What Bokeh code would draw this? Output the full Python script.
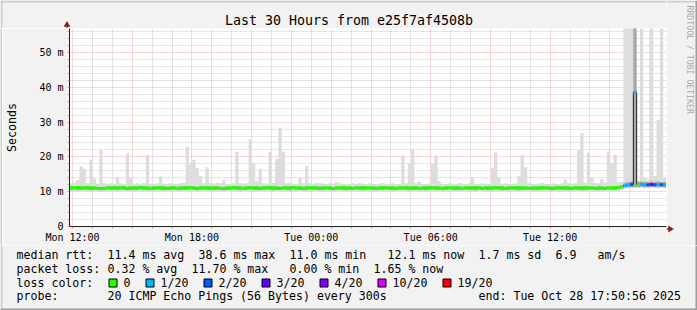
import math
from bokeh.plotting import figure
from bokeh.layouts import column, row
from bokeh.models import FixedTicker, Label, Range1d
from bokeh.embed import file_html
from bokeh.resources import INLINE

# ---------------- data ----------------
# time axis: hours since Mon 00:00; 30 hours ending Tue 17:50:56, 10-minute bins
T_START = 11 + 50 / 60 + 56 / 3600
T_END = T_START + 30
N_BINS = 180

x_tick_pos = [12, 18, 24, 30, 36]
x_tick_labels = ["Mon 12:00", "Mon 18:00", "Tue 00:00", "Tue 06:00", "Tue 12:00"]
y_tick_pos = [0, 10, 20, 30, 40, 50]
y_tick_labels = ["0", "10 m", "20 m", "30 m", "40 m", "50 m"]

median_ms = [
    11.2, 11.1, 11.2, 11.1, 11.1, 11.2, 11.1, 11.1, 11.0, 10.9, 11.0, 11.1, 11.1, 11.2, 11.1, 11.1, 11.2, 11.0, 11.1, 11.1,
    11.1, 11.2, 11.1, 11.1, 11.0, 11.1, 11.1, 11.2, 11.1, 11.0, 11.1, 11.1, 11.0, 11.1, 11.1, 11.2, 11.1, 11.1, 11.0, 11.1,
    11.1, 11.2, 11.1, 11.1, 11.1, 11.0, 10.9, 11.1, 11.1, 11.2, 11.1, 11.1, 11.0, 11.1, 11.2, 11.1, 11.1, 11.0, 11.1, 11.1,
    11.2, 11.1, 11.1, 11.0, 11.1, 11.1, 11.1, 11.2, 11.1, 11.1, 11.0, 11.1, 11.1, 11.2, 11.1, 11.0, 11.1, 11.1, 11.1, 10.9,
    11.1, 11.1, 11.2, 11.1, 11.1, 11.0, 11.1, 11.1, 11.2, 11.1, 11.1, 11.1, 11.0, 11.1, 11.2, 11.1, 11.1, 11.1, 11.0, 11.1,
    11.1, 11.2, 11.1, 11.1, 11.1, 11.0, 11.1, 11.1, 11.2, 11.1, 11.1, 11.1, 11.0, 11.1, 11.1, 11.2, 11.1, 11.1, 11.0, 11.1,
    11.1, 11.1, 11.2, 11.1, 11.0, 11.1, 11.1, 11.1, 11.2, 11.1, 11.1, 11.0, 11.1, 11.1, 11.1, 11.2, 11.1, 11.1, 11.0, 11.1,
    11.1, 11.1, 11.2, 11.1, 11.1, 11.0, 11.1, 11.1, 11.1, 11.2, 11.1, 11.0, 11.1, 11.1, 11.1, 11.2, 11.1, 11.1, 11.0, 11.1,
    11.1, 11.0, 11.1, 11.1, 11.2, 11.2, 11.4, 11.8, 11.9, 12.1, 38.6, 12.0, 12.1, 12.0, 12.0, 12.1, 12.0, 12.1, 12.0, 12.0,
]

smoke_max_ms = [
    12.4, 12.6, 13.3, 17.3, 16.6, 12.5, 19.2, 13.8, 12.3, 22.0, 12.6, 12.2, 12.4, 12.3, 14.3, 12.4, 12.2, 21.0, 13.8, 12.3,
    12.4, 12.2, 12.5, 20.6, 12.3, 12.2, 12.4, 14.4, 12.3, 12.2, 12.5, 12.3, 12.2, 12.4, 12.6, 22.9, 17.8, 19.2, 16.8, 14.5,
    12.4, 17.0, 12.5, 12.3, 12.6, 12.4, 13.3, 12.3, 12.2, 12.4, 21.4, 12.5, 12.3, 12.4, 25.0, 18.3, 13.0, 16.6, 12.4, 12.3,
    21.5, 12.6, 19.4, 28.4, 21.5, 12.4, 12.6, 12.3, 12.2, 14.2, 12.4, 17.4, 12.5, 12.3, 12.6, 12.4, 12.3, 12.2, 12.5, 12.3,
    12.8, 12.4, 12.3, 12.2, 12.3, 12.4, 12.2, 12.6, 12.3, 12.2, 12.4, 12.3, 12.2, 12.3, 12.5, 12.2, 12.3, 12.4, 12.2, 12.3,
    20.4, 12.4, 18.1, 22.2, 12.5, 12.9, 12.3, 12.2, 12.4, 18.0, 20.4, 13.0, 12.3, 12.2, 12.4, 12.3, 12.2, 12.5, 12.3, 12.2,
    12.4, 14.2, 12.3, 12.2, 12.4, 12.3, 12.2, 16.9, 21.3, 14.0, 12.3, 12.4, 12.2, 12.3, 12.4, 14.5, 20.6, 17.0, 12.6, 12.3,
    12.2, 12.4, 12.5, 12.3, 12.2, 12.4, 12.3, 12.2, 12.4, 13.5, 12.4, 12.3, 12.4, 21.9, 26.9, 12.6, 21.3, 14.0, 12.5, 12.4,
    13.6, 12.6, 21.6, 18.3, 20.7, 12.7, 12.8, 60.0, 60.0, 60.0, 60.0, 13.2, 60.0, 14.0, 13.5, 60.0, 14.5, 30.6, 60.0, 14.0,
]

smoke_min_ms = [
    10.1, 10.2, 10.0, 10.1, 10.2, 10.1, 10.0, 10.2, 10.1, 10.0, 10.1, 10.2, 10.1, 10.1, 10.0, 10.2, 10.1, 10.1, 10.2, 10.0,
    10.1, 10.2, 10.1, 10.0, 10.1, 10.2, 10.1, 10.1, 10.0, 10.2, 10.1, 10.1, 10.2, 10.0, 10.1, 10.1, 10.2, 10.1, 10.0, 10.1,
    10.2, 10.1, 10.0, 10.1, 10.2, 10.1, 10.0, 10.1, 10.2, 10.1, 10.1, 10.0, 10.2, 10.1, 10.1, 10.0, 10.2, 10.1, 10.1, 10.2,
    10.1, 10.0, 10.1, 10.2, 10.1, 10.1, 10.0, 10.2, 10.1, 10.1, 10.2, 10.0, 10.1, 10.1, 10.2, 10.1, 10.0, 10.1, 10.2, 10.1,
    10.1, 10.2, 10.0, 10.1, 10.1, 10.2, 10.1, 10.0, 10.1, 10.2, 10.1, 10.1, 10.0, 10.2, 10.1, 10.1, 10.2, 10.0, 10.1, 10.1,
    10.2, 10.1, 10.0, 10.1, 10.2, 10.1, 10.1, 10.0, 10.2, 10.1, 10.1, 10.2, 10.0, 10.1, 10.1, 10.2, 10.1, 10.0, 10.1, 10.2,
    10.1, 10.1, 10.0, 10.2, 10.1, 10.1, 10.2, 10.0, 10.1, 10.1, 10.2, 10.1, 10.0, 10.1, 10.2, 10.1, 10.1, 10.0, 10.2, 10.1,
    10.1, 10.2, 10.0, 10.1, 10.1, 10.2, 10.1, 10.0, 10.1, 10.2, 10.1, 10.1, 10.0, 10.2, 10.1, 10.1, 10.2, 10.1, 10.0, 10.1,
    10.2, 10.1, 10.1, 10.2, 10.2, 10.3, 10.5, 10.9, 11.0, 11.0, 11.1, 11.0, 11.1, 11.0, 11.1, 11.0, 11.1, 11.0, 11.1, 11.0,
]

# denser inner part of the smoke (pings closest to the median)
smoke_inner_lo_ms = [
    10.5, 10.6, 10.4, 10.5, 10.6, 10.5, 10.4, 10.5, 10.5, 10.4, 10.5, 10.6, 10.5, 10.5, 10.4, 10.6, 10.5, 10.4, 10.5, 10.5,
    10.5, 10.6, 10.5, 10.4, 10.5, 10.5, 10.6, 10.5, 10.4, 10.5, 10.5, 10.6, 10.5, 10.4, 10.5, 10.5, 10.6, 10.5, 10.4, 10.5,
    10.6, 10.5, 10.4, 10.5, 10.5, 10.6, 10.4, 10.5, 10.5, 10.6, 10.5, 10.4, 10.5, 10.5, 10.6, 10.5, 10.4, 10.5, 10.5, 10.6,
    10.5, 10.4, 10.5, 10.5, 10.6, 10.5, 10.4, 10.6, 10.5, 10.5, 10.4, 10.5, 10.6, 10.5, 10.5, 10.4, 10.5, 10.6, 10.5, 10.4,
    10.5, 10.6, 10.5, 10.4, 10.5, 10.5, 10.6, 10.5, 10.4, 10.5, 10.6, 10.5, 10.4, 10.5, 10.5, 10.6, 10.5, 10.4, 10.5, 10.5,
    10.6, 10.5, 10.4, 10.5, 10.5, 10.6, 10.5, 10.4, 10.5, 10.6, 10.5, 10.5, 10.4, 10.5, 10.6, 10.5, 10.4, 10.5, 10.5, 10.6,
    10.5, 10.5, 10.4, 10.6, 10.5, 10.5, 10.4, 10.5, 10.6, 10.5, 10.4, 10.5, 10.5, 10.6, 10.5, 10.4, 10.5, 10.5, 10.6, 10.5,
    10.4, 10.5, 10.5, 10.6, 10.5, 10.4, 10.5, 10.6, 10.5, 10.5, 10.4, 10.5, 10.6, 10.5, 10.4, 10.5, 10.5, 10.6, 10.5, 10.4,
    10.5, 10.5, 10.6, 10.5, 10.5, 10.7, 10.9, 11.2, 11.3, 11.3, 11.3, 11.3, 11.4, 11.3, 11.3, 11.4, 11.3, 11.3, 11.4, 11.3,
]
smoke_inner_hi_ms = [
    11.4, 11.4, 11.4, 11.4, 11.4, 11.4, 11.4, 11.4, 11.3, 11.3, 11.3, 11.4, 11.4, 11.4, 11.4, 11.4, 11.4, 11.3, 11.4, 11.4,
    11.4, 11.4, 11.4, 11.4, 11.3, 11.4, 11.4, 11.4, 11.4, 11.3, 11.4, 11.4, 11.3, 11.4, 11.4, 11.4, 11.4, 11.4, 11.3, 11.4,
    11.4, 11.4, 11.4, 11.4, 11.4, 11.3, 11.3, 11.4, 11.4, 11.4, 11.4, 11.4, 11.3, 11.4, 11.4, 11.4, 11.4, 11.3, 11.4, 11.4,
    11.4, 11.4, 11.4, 11.3, 11.4, 11.4, 11.4, 11.4, 11.4, 11.4, 11.3, 11.4, 11.4, 11.4, 11.4, 11.3, 11.4, 11.4, 11.4, 11.3,
    11.4, 11.4, 11.4, 11.4, 11.4, 11.3, 11.4, 11.4, 11.4, 11.4, 11.4, 11.4, 11.3, 11.4, 11.4, 11.4, 11.4, 11.4, 11.3, 11.4,
    11.4, 11.4, 11.4, 11.4, 11.4, 11.3, 11.4, 11.4, 11.4, 11.4, 11.4, 11.4, 11.3, 11.4, 11.4, 11.4, 11.4, 11.4, 11.3, 11.4,
    11.4, 11.4, 11.4, 11.4, 11.3, 11.4, 11.4, 11.4, 11.4, 11.4, 11.4, 11.3, 11.4, 11.4, 11.4, 11.4, 11.4, 11.4, 11.3, 11.4,
    11.4, 11.4, 11.4, 11.4, 11.4, 11.3, 11.4, 11.4, 11.4, 11.4, 11.4, 11.3, 11.4, 11.4, 11.4, 11.4, 11.4, 11.4, 11.3, 11.4,
    11.4, 11.3, 11.4, 11.4, 11.5, 11.5, 11.8, 12.6, 12.8, 13.0, 60.0, 12.8, 12.9, 12.8, 12.8, 12.9, 12.8, 12.9, 12.8, 12.8,
]

# loss level index per bin (0 = 0/20, 1 = 1/20, 2 = 2/20, 3 = 3/20 ...)
loss_level = [
    0, 0, 0, 0, 0, 0, 0, 0, 0, 0, 0, 0, 0, 0, 0, 0, 0, 0, 0, 0,
    0, 0, 0, 0, 0, 0, 0, 0, 0, 0, 0, 0, 0, 0, 0, 0, 0, 0, 0, 0,
    0, 0, 0, 0, 0, 0, 0, 0, 0, 0, 0, 0, 0, 0, 0, 0, 0, 0, 0, 0,
    0, 0, 0, 0, 0, 0, 0, 0, 0, 0, 0, 0, 0, 0, 0, 0, 0, 0, 0, 0,
    0, 0, 0, 0, 0, 0, 0, 0, 0, 0, 0, 0, 0, 0, 0, 0, 0, 0, 0, 0,
    0, 0, 0, 0, 0, 0, 0, 0, 0, 0, 0, 0, 0, 0, 0, 0, 0, 0, 0, 0,
    0, 0, 0, 0, 0, 0, 0, 0, 0, 0, 0, 0, 0, 0, 0, 0, 0, 0, 0, 0,
    0, 0, 0, 0, 0, 0, 0, 0, 0, 0, 0, 0, 0, 0, 0, 0, 0, 0, 0, 0,
    0, 0, 0, 0, 0, 0, 0, 1, 1, 2, 1, 0, 1, 1, 2, 3, 2, 1, 2, 1,
]

loss_labels = ["0", "1/20", "2/20", "3/20", "4/20", "10/20", "19/20"]
loss_colors = ["#26FF00", "#00B8FF", "#0059FF", "#5E00FF", "#7E00FF", "#DD00FF", "#FF0000"]

title_text = "Last 30 Hours from e25f7af4508b"
watermark_text = "RRDTOOL / TOBI OETIKER"
legend_rtt = [(0, "median rtt:"), (13, "11.4 ms avg"), (26, "38.6 ms max"), (39, "11.0 ms min"),
              (53, "12.1 ms now"), (66, "1.7 ms sd"), (77, "6.9"), (83, "am/s")]
legend_loss = [(0, "packet loss:"), (13, "0.32 % avg"), (25, "11.70 % max"), (39, "0.00 % min"),
               (51, "1.65 % now")]
legend_color_title = "loss color:"
legend_probe = [(0, "probe:"), (13, "20 ICMP Echo Pings (56 Bytes) every 300s"),
                (66, "end: Tue Oct 28 17:50:56 2025")]

# ---------------- style / layout ----------------
W, H = 697, 310
FL, FT, FW, FH = 66, 28, 600, 200      # plot area left/top/width/height in canvas px
FR = FL + FW
FB = FT + FH
MAIN_BOTTOM = 245                      # canvas row where the legend block starts
Y_MAX = 56.9
MONO = "DejaVu Sans Mono"
BACK = "#F2F2F2"
SHADE_A = "#CFCFCF"
SHADE_B = "#9E9E9E"
GRID_C = "#8F8F8F"
MGRID_C = "#DE4F4F"
ARROW_C = "#801F1F"
AXIS_C = "#1F1F1F"
CW = 7.0                               # legend character advance
DY_LEG = -3.7                          # baseline correction for 11.6px text
DY_TITLE = -4.2                        # baseline correction for 13.3px text

t_edges = [T_START + i * (T_END - T_START) / N_BINS for i in range(N_BINS + 1)]


def ext(a):
    return list(a) + [a[-1]]


def plain_fig(x0, x1, y0, y1, bg=BACK):
    """decoration figure whose frame covers its whole canvas, in image pixel coordinates"""
    return figure(width=int(x1 - x0), height=int(y1 - y0), output_backend="svg",
                  toolbar_location=None, title=None,
                  x_range=Range1d(x0, x1), y_range=Range1d(y1, y0),
                  x_axis_type=None, y_axis_type=None, min_border=0,
                  background_fill_color=bg, border_fill_color=bg, outline_line_color=None)


def wrap(f):
    return column(f)


# ---- main chart ----
p = figure(width=FR - 2, height=MAIN_BOTTOM - FT, output_backend="svg", toolbar_location=None,
           title=None,
           x_range=Range1d(T_START, T_END), y_range=Range1d(0, Y_MAX),
           min_border_left=FL - 2, min_border_right=0,
           min_border_top=0, min_border_bottom=MAIN_BOTTOM - FB,
           background_fill_color="#FFFFFF", border_fill_color=BACK,
           outline_line_color=None)

# smoke
p.varea_step(x=t_edges, y1=ext(smoke_min_ms), y2=ext(smoke_max_ms), step_mode="after",
             fill_color="#DDDDDD", fill_alpha=1)
p.varea_step(x=t_edges, y1=ext(smoke_inner_lo_ms), y2=ext(smoke_inner_hi_ms), step_mode="after",
             fill_color="#A8A8A8", fill_alpha=1)

# median: thin dark step line + loss coloured segments
p.step(x=t_edges, y=ext(median_ms), mode="after", line_color="#202020", line_width=1)
p.segment(x0=t_edges[:-1], x1=t_edges[1:], y0=median_ms, y1=median_ms,
          line_color=[loss_colors[k] for k in loss_level], line_width=3, line_cap="butt")

# ticks and grid
x_major = list(range(12, 42, 3))
x_minor = [h for h in range(12, 42) if h % 3 != 0]
y_minor = [v for v in range(2, 57, 2) if v % 10 != 0]
xt = FixedTicker(ticks=x_major, minor_ticks=x_minor)
yt = FixedTicker(ticks=y_tick_pos, minor_ticks=y_minor)
p.xaxis.ticker = xt
p.yaxis.ticker = yt
p.xgrid.ticker = xt
p.ygrid.ticker = yt

xo = {h: "" for h in x_major}
for pos, lab in zip(x_tick_pos, x_tick_labels):
    xo[pos] = lab
p.xaxis.major_label_overrides = xo
p.yaxis.major_label_overrides = {pos: lab for pos, lab in zip(y_tick_pos, y_tick_labels)}

for ax in (p.xaxis, p.yaxis):
    ax.axis_line_color = AXIS_C
    ax.axis_line_width = 1
    ax.major_tick_line_color = MGRID_C
    ax.major_tick_line_alpha = 0.6
    ax.major_tick_out = 2
    ax.major_tick_in = 0
    ax.minor_tick_line_color = GRID_C
    ax.minor_tick_line_alpha = 0.75
    ax.minor_tick_out = 2
    ax.minor_tick_in = 0
    ax.major_label_text_font = MONO
    ax.major_label_text_font_size = "10px"
    ax.major_label_text_color = "#000000"

p.xaxis.major_label_standoff = 3
p.yaxis.major_label_standoff = 4
p.yaxis.axis_label = "Seconds"
p.yaxis.axis_label_text_font = MONO
p.yaxis.axis_label_text_font_size = "11.6px"
p.yaxis.axis_label_text_font_style = "normal"
p.yaxis.axis_label_text_color = "#000000"
p.yaxis.axis_label_standoff = 17

for g in (p.xgrid, p.ygrid):
    g.grid_line_color = MGRID_C
    g.grid_line_alpha = 0.45
    g.grid_line_dash = "1 1"
    g.minor_grid_line_color = GRID_C
    g.minor_grid_line_alpha = 0.45
    g.minor_grid_line_dash = "1 1"

# ---- top block: shading, title, y axis arrow ----
top = plain_fig(0, FR, 0, FT)
top.quad(left=[0], right=[FR], bottom=[2], top=[0], fill_color=SHADE_A, line_color=None)
top.quad(left=[0], right=[2], bottom=[FT], top=[0], fill_color=SHADE_A, line_color=None)
top.segment(x0=[FL + 0.5], y0=[FT - 4], x1=[FL + 0.5], y1=[FT], line_color=AXIS_C, line_width=1)
top.patch(x=[FL - 2.5, FL + 3.5, FL + 0.5], y=[FT - 2, FT - 2, FT - 7],
          fill_color=ARROW_C, line_color=ARROW_C, line_width=0.5)
top.add_layout(Label(x=W / 2, y=24 + DY_TITLE, text=title_text, text_font=MONO,
                     text_font_size="13.3px", text_color="#000000",
                     text_align="center", text_baseline="alphabetic"))

left = plain_fig(0, 2, FT, MAIN_BOTTOM, bg=SHADE_A)

# ---- right block: shading, x axis arrow, watermark ----
right = plain_fig(FR, W, 0, MAIN_BOTTOM)
right.quad(left=[FR], right=[W - 2], bottom=[2], top=[0], fill_color=SHADE_A, line_color=None)
right.quad(left=[W - 2], right=[W], bottom=[MAIN_BOTTOM], top=[0], fill_color=SHADE_B, line_color=None)
right.segment(x0=[FR], y0=[FB + 0.5], x1=[FR + 3], y1=[FB + 0.5], line_color=AXIS_C, line_width=1)
right.patch(x=[FR + 2, FR + 2, FR + 7], y=[FB - 2.5, FB + 3.5, FB + 0.5],
            fill_color=ARROW_C, line_color=ARROW_C, line_width=0.5)
right.add_layout(Label(x=689, y=5, text=watermark_text, text_font=MONO, text_font_size="8.2px",
                       text_color="#AAAAAA", text_align="left", text_baseline="middle",
                       angle=-math.pi / 2))

# ---- legend block ----
leg = plain_fig(0, W, MAIN_BOTTOM, H)
leg.quad(left=[0], right=[2], bottom=[H], top=[MAIN_BOTTOM], fill_color=SHADE_A, line_color=None)
leg.quad(left=[W - 2], right=[W], bottom=[H], top=[MAIN_BOTTOM], fill_color=SHADE_B, line_color=None)
leg.quad(left=[0], right=[W], bottom=[H], top=[H - 2], fill_color=SHADE_B, line_color=None)


def ltext(X, Y, s):
    leg.add_layout(Label(x=X, y=Y + DY_LEG, text=s, text_font=MONO, text_font_size="11.6px",
                         text_color="#000000", text_align="left", text_baseline="alphabetic"))


for items, base in ((legend_rtt, 258), (legend_loss, 272), (legend_probe, 299.5)):
    for idx, s in items:
        ltext(16 + idx * CW, base, s)

ltext(16, 286, legend_color_title)
bx = 108.5
bl, br = [], []
for lab in loss_labels:
    bl.append(bx)
    br.append(bx + 8)
    lx = bx + 14.5
    ltext(lx, 286, lab)
    bx = lx + CW * len(lab) + 15.5
leg.quad(left=bl, right=br, top=[278.5] * len(bl), bottom=[286.5] * len(bl),
         fill_color=loss_colors, line_color="#000000", line_width=1)

layout = column(
    row(column(wrap(top), row(wrap(left), wrap(p))), wrap(right)),
    wrap(leg),
)
open("out.html", "w").write(file_html(layout, INLINE))
